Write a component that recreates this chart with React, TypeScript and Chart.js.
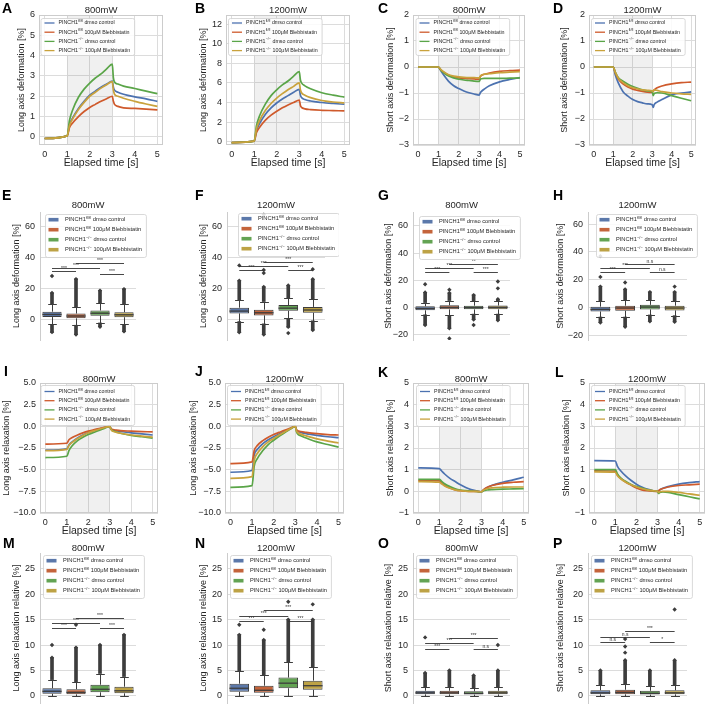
import React, { useEffect, useRef } from 'react';
import { Chart, registerables } from 'chart.js';

Chart.register(...registerables);

const FONT = '"Liberation Sans", Arial, Helvetica, sans-serif';
const INK = '#262626';
const GRID = '#dcdcdc';
const EDGE = '#3d3d3d';

// ---------------- categories / legend ----------------
const GROUP_BASE = ['PINCH1', 'PINCH1', 'PINCH1', 'PINCH1'];
const GROUP_SUP = ['fl/fl', 'fl/fl', '\u2212/\u2212', '\u2212/\u2212'];
const GROUP_REST = [' dmso control', ' 100\u03bcM Blebbistatin', ' dmso control', ' 100\u03bcM Blebbistatin'];
const CATS = ['flfl-dmso', 'flfl-bleb', 'ko-dmso', 'ko-bleb'];
const LINE_COLORS = ['#4c72b0', '#cf5a2c', '#5aa548', '#c9a23c'];
const BOX_COLORS = ['#5b78aa', '#c4643b', '#63a353', '#bda245'];

// ---------------- time courses ----------------
const TIME = [0, 1, 1.1, 1.25, 1.5, 1.75, 2, 2.25, 2.5, 2.75, 3, 3.05, 3.1, 3.25, 3.5, 4, 4.5, 5];
const X_TICKS = [0, 1, 2, 3, 4, 5];
const X_LIM = [-0.25, 5.25];
const STIM = [1, 3];

const A_BLUE = [-0.08, 0.05, 0.6, 0.95, 1.4, 1.75, 2.05, 2.25, 2.45, 2.6, 2.75, 2.45, 2.3, 2.2, 2.1, 1.97, 1.87, 1.75];
const A_ORANGE = [-0.08, 0.05, 0.45, 0.7, 1.0, 1.25, 1.45, 1.6, 1.75, 1.88, 2.0, 1.75, 1.6, 1.5, 1.43, 1.4, 1.37, 1.33];
const A_GREEN = [-0.08, 0.05, 0.8, 1.35, 1.95, 2.35, 2.65, 2.9, 3.1, 3.35, 3.58, 2.9, 2.7, 2.6, 2.5, 2.38, 2.25, 2.13];
const A_GOLD = [-0.08, 0.05, 0.55, 0.9, 1.35, 1.7, 2.0, 2.2, 2.4, 2.57, 2.72, 2.3, 2.1, 2.0, 1.9, 1.75, 1.62, 1.5];

const B_BLUE = [-0.1, 0.05, 1.1, 1.9, 2.8, 3.45, 3.95, 4.35, 4.7, 5.05, 5.35, 4.75, 4.5, 4.3, 4.15, 4.0, 3.9, 3.82];
const B_ORANGE = [-0.1, 0.05, 0.9, 1.5, 2.2, 2.7, 3.1, 3.45, 3.75, 4.0, 4.25, 3.7, 3.5, 3.35, 3.27, 3.2, 3.17, 3.14];
const B_GREEN = [-0.1, 0.05, 1.6, 2.7, 3.85, 4.7, 5.3, 5.8, 6.2, 6.7, 7.15, 6.3, 6.0, 5.7, 5.4, 5.0, 4.75, 4.55];
const B_GOLD = [-0.1, 0.05, 1.3, 2.2, 3.2, 3.9, 4.45, 4.9, 5.3, 5.65, 6.0, 5.3, 5.0, 4.75, 4.5, 4.2, 4.05, 3.95];

const C_BLUE = [0, 0, -0.12, -0.3, -0.55, -0.72, -0.83, -0.92, -0.99, -1.04, -1.08, -1.0, -0.95, -0.85, -0.72, -0.57, -0.48, -0.41];
const C_ORANGE = [0, 0, -0.1, -0.2, -0.32, -0.38, -0.42, -0.44, -0.45, -0.46, -0.47, -0.38, -0.33, -0.28, -0.23, -0.17, -0.14, -0.12];
const C_GREEN = [0, 0, -0.1, -0.22, -0.35, -0.42, -0.47, -0.5, -0.52, -0.54, -0.55, -0.48, -0.45, -0.44, -0.44, -0.44, -0.43, -0.42];
const C_GOLD = [0, 0, -0.08, -0.18, -0.3, -0.35, -0.38, -0.4, -0.41, -0.41, -0.42, -0.36, -0.32, -0.28, -0.26, -0.22, -0.2, -0.18];

const D_BLUE = [0, 0, -0.3, -0.6, -0.95, -1.12, -1.25, -1.33, -1.38, -1.42, -1.45, -1.55, -1.45, -1.35, -1.25, -1.07, -1.0, -0.96];
const D_ORANGE = [0, 0, -0.22, -0.45, -0.65, -0.77, -0.85, -0.9, -0.94, -0.97, -0.98, -0.92, -0.88, -0.8, -0.73, -0.65, -0.6, -0.58];
const D_GREEN = [0, 0, -0.2, -0.4, -0.55, -0.66, -0.75, -0.82, -0.88, -0.92, -0.95, -1.1, -1.02, -0.99, -1.0, -1.1, -1.2, -1.3];
const D_GOLD = [0, 0, -0.2, -0.42, -0.6, -0.72, -0.8, -0.84, -0.88, -0.9, -0.92, -0.95, -0.88, -0.9, -0.95, -1.0, -1.03, -1.05];

const I_BLUE = [-2.75, -2.6, -2.15, -1.8, -1.35, -1.0, -0.72, -0.5, -0.32, -0.15, 0, -0.25, -0.4, -0.5, -0.6, -0.75, -0.88, -1.0];
const I_ORANGE = [-2.05, -1.95, -1.55, -1.3, -1.0, -0.75, -0.55, -0.4, -0.25, -0.12, 0, -0.22, -0.35, -0.42, -0.5, -0.55, -0.6, -0.65];
const I_GREEN = [-3.6, -3.45, -2.8, -2.25, -1.65, -1.25, -0.95, -0.7, -0.48, -0.25, 0, -0.3, -0.45, -0.6, -0.8, -1.05, -1.2, -1.35];
const I_GOLD = [-2.8, -2.65, -2.2, -1.85, -1.4, -1.05, -0.75, -0.52, -0.33, -0.16, 0, -0.3, -0.5, -0.65, -0.8, -1.0, -1.12, -1.25];

const J_BLUE = [-5.3, -5.1, -3.3, -2.65, -2.0, -1.55, -1.2, -0.88, -0.58, -0.28, 0, -0.4, -0.55, -0.7, -0.85, -1.05, -1.2, -1.3];
const J_ORANGE = [-4.3, -4.1, -2.8, -2.2, -1.65, -1.25, -0.95, -0.7, -0.45, -0.22, 0, -0.35, -0.5, -0.6, -0.7, -0.85, -0.95, -1.0];
const J_GREEN = [-7.05, -6.85, -4.6, -3.7, -2.8, -2.1, -1.6, -1.15, -0.75, -0.35, 0, -0.6, -0.85, -1.1, -1.35, -1.8, -2.1, -2.4];
const J_GOLD = [-6.0, -5.8, -3.9, -3.1, -2.35, -1.8, -1.4, -1.0, -0.65, -0.3, 0, -0.5, -0.7, -0.9, -1.1, -1.45, -1.7, -1.92];

const K_BLUE = [1.08, 1.05, 0.95, 0.8, 0.6, 0.45, 0.3, 0.18, 0.08, 0.02, -0.02, 0.02, 0.07, 0.17, 0.28, 0.42, 0.53, 0.65];
const K_ORANGE = [0.5, 0.48, 0.4, 0.28, 0.15, 0.07, 0.03, 0.01, 0, 0, -0.02, 0.03, 0.08, 0.18, 0.27, 0.37, 0.42, 0.45];
const K_GREEN = [0.55, 0.55, 0.47, 0.35, 0.22, 0.12, 0.06, 0.03, 0.01, 0, -0.02, 0.0, 0.03, 0.06, 0.08, 0.1, 0.11, 0.12];
const K_GOLD = [0.45, 0.42, 0.35, 0.25, 0.14, 0.07, 0.03, 0.01, 0, 0, -0.02, 0.02, 0.06, 0.12, 0.16, 0.19, 0.2, 0.2];

const L_BLUE = [1.42, 1.4, 1.15, 0.95, 0.7, 0.5, 0.33, 0.2, 0.1, 0.04, 0, 0.02, 0.06, 0.14, 0.22, 0.33, 0.4, 0.45];
const L_ORANGE = [0.95, 0.93, 0.75, 0.6, 0.42, 0.28, 0.15, 0.07, 0.03, 0.01, 0, 0.03, 0.07, 0.13, 0.2, 0.27, 0.3, 0.33];
const L_GREEN = [1.0, 1.0, 0.8, 0.62, 0.45, 0.32, 0.22, 0.15, 0.08, 0.03, 0, -0.1, -0.05, -0.03, -0.05, -0.15, -0.25, -0.35];
const L_GOLD = [0.9, 0.88, 0.72, 0.58, 0.42, 0.3, 0.2, 0.13, 0.07, 0.03, 0, -0.05, -0.02, 0, 0, -0.05, -0.12, -0.18];

// ---------------- box plots: [q1, median, q3, whiskerLow, whiskerHigh, flierLow, flierHigh] ----------------
const E_BOX = [
  [1.3, 3.0, 4.8, -3.5, 10, -8.5, 17],
  [0.5, 2.0, 3.6, -4, 8, -10, 26],
  [2.2, 3.8, 5.6, -2.5, 10.5, -5, 18.5],
  [1.2, 2.8, 4.5, -3.5, 9.5, -8, 19.5],
];
const E_OUT = [[0, 28]];
const E_SIG = [[0, 1, 31, '***'], [2, 3, 29.5, '***'], [0, 2, 33.5, '***'], [1, 3, 36.6, '***']];

const F_BOX = [
  [3.8, 5.3, 7.5, -1.5, 12.5, -8.5, 25],
  [2.5, 4.2, 6.2, -3, 11.5, -10, 21],
  [5.5, 7.2, 9.2, 0.5, 14, -5, 22],
  [4.2, 6.0, 8.0, -1, 13, -7, 26],
];
const F_OUT = [[0, 35], [1, 30], [1, 32], [1, 68], [2, -9], [3, 32.5]];
const F_SIG = [[0, 1, 32, '***'], [2, 3, 32, '***'], [0, 2, 34.5, '***'], [1, 3, 37, '***']];

const G_BOX = [
  [-2.2, -0.8, 0.8, -5.5, 3.5, -13, 11],
  [-1.5, 0.0, 1.5, -6, 5, -15.5, 10.5],
  [-1.5, -0.2, 1.2, -5, 4.5, -9, 9],
  [-1.5, 0.0, 1.3, -5, 4.5, -9.5, 6],
];
const G_OUT = [[0, 17], [1, 13], [1, -23], [2, -13], [3, 14], [3, 19]];
const G_SIG = [[0, 1, 25.8, '***'], [2, 3, 25.8, '***'], [0, 2, 29, '***'], [1, 3, 31.7, '**']];

const H_BOX = [
  [-3, -1.5, 0.5, -7, 4.5, -11, 15],
  [-2.5, -0.5, 1.2, -7, 5, -14, 13],
  [-1.5, 0.2, 1.8, -5.5, 5, -10, 11],
  [-2.2, -0.5, 1.2, -6, 4.5, -10.5, 11],
];
const H_OUT = [[0, 22], [0, 37], [1, 18], [3, 15]];
const H_SIG = [[0, 1, 25.3, '***'], [2, 3, 25.3, 'n.s'], [0, 2, 28.2, '***'], [1, 3, 31.1, 'n.s']];

const M_BOX = [
  [0.4, 0.9, 1.5, 0, 3.2, null, 7.5],
  [0.3, 0.7, 1.3, 0, 2.8, null, 9.5],
  [0.7, 1.3, 2.2, 0, 4.4, null, 10],
  [0.5, 1.0, 1.8, 0, 3.8, null, 12],
];
const M_OUT = [[0, 10], [1, 14]];
const M_SIG = [[0, 1, 13.4, '***'], [2, 3, 13.4, '***'], [0, 2, 14.4, '***'], [1, 3, 15.4, '***']];

const N_BOX = [
  [0.8, 1.5, 2.4, 0, 4.8, null, 12],
  [0.6, 1.1, 2.0, 0, 4.1, null, 11],
  [1.5, 2.5, 3.6, 0, 6.6, null, 15],
  [1.2, 2.0, 3.0, 0, 5.7, null, 15],
];
const N_OUT = [[0, 14], [1, 13], [2, 18.5], [3, 18]];
const N_SIG = [[0, 1, 14.8, '***'], [2, 3, 14.8, '***'], [0, 2, 15.8, '***'], [1, 3, 16.8, '***']];

const O_BOX = [
  [0.3, 0.6, 1.0, 0, 1.8, null, 4.5],
  [0.3, 0.6, 1.0, 0, 1.8, null, 5],
  [0.25, 0.5, 0.9, 0, 1.6, null, 4],
  [0.3, 0.6, 1.0, 0, 1.8, null, 5],
];
const O_OUT = [[0, 11.5], [3, 10]];
const O_SIG = [[0, 1, 9.2, '***'], [2, 3, 9.2, 'n.s'], [0, 2, 10.4, '***'], [1, 3, 11.4, '***']];

const P_BOX = [
  [0.3, 0.6, 1.1, 0, 2.1, null, 5],
  [0.3, 0.7, 1.2, 0, 2.3, null, 7],
  [0.25, 0.5, 1.0, 0, 1.9, null, 5],
  [0.3, 0.6, 1.1, 0, 2.1, null, 7],
];
const P_OUT = [[1, 8.5], [1, 9.7], [1, 11.2], [3, 17]];
const P_SIG = [[0, 1, 10.5, 'n.s'], [2, 3, 10.5, '*'], [0, 2, 11.5, 'n.s'], [1, 3, 12.8, '***']];

// ---------------- tick labels ----------------
const A_YTICKS = [0, 1, 2, 3, 4, 5, 6];
const B_YTICKS = [0, 2, 4, 6, 8, 10, 12];
const CD_YTICKS = [-3, -2, -1, 0, 1, 2];
const EF_YTICKS = [0, 20, 40, 60];
const GH_YTICKS = [-20, 0, 20, 40, 60];
const IJ_YTICKS = [-10, -7.5, -5, -2.5, 0, 2.5, 5];
const KL_YTICKS = [-1, 0, 1, 2, 3, 4, 5];
const MP_YTICKS = [0, 5, 10, 15, 20, 25];

// ---------------- layout ----------------
const PADL = 48;
const PADT = 18;
const PADR_LINE = 6;
const PADB_LINE = 30;
const PADR_BOX = 14;
const PADB_BOX = 4;

const LINE_PANELS = [
  { letter: 'A', lp: [2, 3], rect: [39, 15, 163, 145], title: '800mW', tdy: 2.5, ylabel: 'Long axis deformation [%]', ylx: 22, ylim: [-0.4, 6.0], yt: A_YTICKS, dec: 0, series: [A_BLUE, A_ORANGE, A_GREEN, A_GOLD], leg: [1.5, 3, 5, 9.2, 37], xly: 18.5 },
  { letter: 'B', lp: [195, 3], rect: [226, 15, 350, 145], title: '1200mW', tdy: 2.5, ylabel: 'Long axis deformation [%]', ylx: 204, ylim: [-0.35, 12.95], yt: B_YTICKS, dec: 0, series: [B_BLUE, B_ORANGE, B_GREEN, B_GOLD], leg: [2, 3, 5, 9.2, 37], xly: 18.5 },
  { letter: 'C', lp: [378, 3], rect: [413, 15, 525, 145], title: '800mW', tdy: 2.5, ylabel: 'Short axis deformation [%]', ylx: 391, ylim: [-3, 2], yt: CD_YTICKS, dec: 0, series: [C_BLUE, C_ORANGE, C_GREEN, C_GOLD], leg: [2.5, 3, 5, 9.2, 37], xly: 18.5 },
  { letter: 'D', lp: [553, 3], rect: [589, 15, 696, 145], title: '1200mW', tdy: 2.5, ylabel: 'Short axis deformation [%]', ylx: 565, ylim: [-3, 2], yt: CD_YTICKS, dec: 0, series: [D_BLUE, D_ORANGE, D_GREEN, D_GOLD], leg: [2, 3, 5, 9.2, 37], xly: 18.5 },
  { letter: 'I', lp: [4, 366], rect: [40, 383, 158, 513], title: '800mW', tdy: 1.5, ylabel: 'Long axis relaxation [%]', ylx: 7, ylim: [-10, 5], yt: IJ_YTICKS, dec: 1, series: [I_BLUE, I_ORANGE, I_GREEN, I_GOLD], leg: [0.5, 2, 6.5, 9.2, 40], xly: 18 },
  { letter: 'J', lp: [195, 366], rect: [225, 383, 344, 513], title: '1200mW', tdy: 1.5, ylabel: 'Long axis relaxation [%]', ylx: 194, ylim: [-10, 5], yt: IJ_YTICKS, dec: 1, series: [J_BLUE, J_ORANGE, J_GREEN, J_GOLD], leg: [2, 2, 6.5, 9.2, 40], xly: 18 },
  { letter: 'K', lp: [378, 367], rect: [413, 383, 529, 513], title: '800mW', tdy: 1.5, ylabel: 'Short axis relaxation [%]', ylx: 391, ylim: [-1, 5], yt: KL_YTICKS, dec: 0, series: [K_BLUE, K_ORANGE, K_GREEN, K_GOLD], leg: [3, 2, 6.5, 9.2, 41], xly: 18 },
  { letter: 'L', lp: [555, 367], rect: [589, 383, 705, 513], title: '1200mW', tdy: 1.5, ylabel: 'Short axis relaxation [%]', ylx: 567, ylim: [-1, 5], yt: KL_YTICKS, dec: 0, series: [L_BLUE, L_ORANGE, L_GREEN, L_GOLD], leg: [2, 2, 6.5, 9.2, 41], xly: 18 },
];

const BOX_PANELS = [
  { letter: 'E', lp: [2, 190], rect: [40, 212, 136, 340], title: '800mW', tdy: 3.7, ylabel: 'Long axis deformation [%]', ylx: 17, ylim: [-13.6, 69.6], yt: EF_YTICKS, stats: E_BOX, out: E_OUT, sig: E_SIG, leg: [5, 2] },
  { letter: 'F', lp: [195, 190], rect: [227, 212, 325, 340], title: '1200mW', tdy: 3.7, ylabel: 'Long axis deformation [%]', ylx: 204, ylim: [-13.5, 69.7], yt: EF_YTICKS, stats: F_BOX, out: F_OUT, sig: F_SIG, leg: [11, 1] },
  { letter: 'G', lp: [378, 190], rect: [413, 212, 510, 340], title: '800mW', tdy: 3.7, ylabel: 'Short axis deformation [%]', ylx: 389, ylim: [-24.1, 70.3], yt: GH_YTICKS, stats: G_BOX, out: G_OUT, sig: G_SIG, leg: [6, 4] },
  { letter: 'H', lp: [553, 190], rect: [588, 212, 687, 340], title: '1200mW', tdy: 3.7, ylabel: 'Short axis deformation [%]', ylx: 561, ylim: [-23.6, 68.9], yt: GH_YTICKS, stats: H_BOX, out: H_OUT, sig: H_SIG, leg: [8, 2] },
  { letter: 'M', lp: [3, 538], rect: [40, 553, 136, 703], title: '800mW', tdy: 2.5, ylabel: 'Long axis relaxation relative [%]', ylx: 17, ylim: [-1.4, 28.1], yt: MP_YTICKS, stats: M_BOX, out: M_OUT, sig: M_SIG, leg: [3, 2] },
  { letter: 'N', lp: [195, 538], rect: [227, 553, 325, 703], title: '1200mW', tdy: 2.5, ylabel: 'Long axis relaxation relative [%]', ylx: 204, ylim: [-1.4, 28.1], yt: MP_YTICKS, stats: N_BOX, out: N_OUT, sig: N_SIG, leg: [3, 2] },
  { letter: 'O', lp: [378, 538], rect: [413, 553, 510, 703], title: '800mW', tdy: 2.5, ylabel: 'Short axis relaxation relative [%]', ylx: 389, ylim: [-1.4, 28.1], yt: MP_YTICKS, stats: O_BOX, out: O_OUT, sig: O_SIG, leg: [3, 2] },
  { letter: 'P', lp: [553, 538], rect: [588, 553, 687, 703], title: '1200mW', tdy: 2.5, ylabel: 'Short axis relaxation relative [%]', ylx: 561, ylim: [-1.4, 28.1], yt: MP_YTICKS, stats: P_BOX, out: P_OUT, sig: P_SIG, leg: [3, 2] },
];

// ---------------- drawing helpers ----------------
function fmt(v: number, dec: number) {
  const s = Math.abs(v).toFixed(dec);
  return (v < 0 ? '\u2212' : '') + s;
}

function labelWidth(ctx: CanvasRenderingContext2D, i: number, fs: number) {
  ctx.font = `${fs}px ${FONT}`;
  let w = ctx.measureText(GROUP_BASE[i]).width + ctx.measureText(GROUP_REST[i]).width;
  ctx.font = `${fs * 0.68}px ${FONT}`;
  w += ctx.measureText(GROUP_SUP[i]).width + 0.4;
  return w;
}

function drawLabel(ctx: CanvasRenderingContext2D, x: number, y: number, i: number, fs: number) {
  ctx.fillStyle = INK;
  ctx.textAlign = 'left';
  ctx.textBaseline = 'middle';
  ctx.font = `${fs}px ${FONT}`;
  ctx.fillText(GROUP_BASE[i], x, y);
  let w = ctx.measureText(GROUP_BASE[i]).width + 0.2;
  ctx.font = `${fs * 0.68}px ${FONT}`;
  ctx.fillText(GROUP_SUP[i], x + w, y - fs * 0.36);
  w += ctx.measureText(GROUP_SUP[i]).width + 0.2;
  ctx.font = `${fs}px ${FONT}`;
  ctx.fillText(GROUP_REST[i], x + w, y);
}

function drawLegend(ctx: CanvasRenderingContext2D, x: number, y: number, kind: string, fs: number, first: number, step: number, h: number, textStart: number) {
  ctx.save();
  let maxW = 0;
  for (let i = 0; i < 4; i++) maxW = Math.max(maxW, labelWidth(ctx, i, fs));
  const w = textStart + maxW + 4;
  ctx.beginPath();
  if ((ctx as any).roundRect) (ctx as any).roundRect(x + 0.5, y + 0.5, w, h, 2);
  else ctx.rect(x + 0.5, y + 0.5, w, h);
  ctx.fillStyle = 'rgba(255,255,255,0.85)';
  ctx.fill();
  ctx.strokeStyle = '#cfcfcf';
  ctx.lineWidth = 0.8;
  ctx.stroke();
  for (let i = 0; i < 4; i++) {
    const cy = y + first + i * step;
    if (kind === 'line') {
      ctx.strokeStyle = LINE_COLORS[i];
      ctx.lineWidth = 1.3;
      ctx.beginPath();
      ctx.moveTo(x + 4, cy);
      ctx.lineTo(x + 14, cy);
      ctx.stroke();
    } else {
      ctx.fillStyle = BOX_COLORS[i];
      ctx.fillRect(x + 3.5, cy - 1.8, 10, 3.6);
    }
    drawLabel(ctx, x + textStart, cy, i, fs);
  }
  ctx.restore();
}

function drawTitles(ctx: CanvasRenderingContext2D, ca: any, p: any, canvasLeft: number, xlabelY: number | null) {
  ctx.save();
  ctx.fillStyle = INK;
  ctx.textAlign = 'center';
  ctx.textBaseline = 'alphabetic';
  ctx.font = `9.5px ${FONT}`;
  ctx.fillText(p.title, (ca.left + ca.right) / 2, ca.top - p.tdy);
  ctx.save();
  ctx.translate(p.ylx - canvasLeft, (ca.top + ca.bottom) / 2);
  ctx.rotate(-Math.PI / 2);
  ctx.textBaseline = 'middle';
  ctx.font = `9px ${FONT}`;
  ctx.fillText(p.ylabel, 0, 0);
  ctx.restore();
  if (xlabelY !== null) {
    ctx.textBaseline = 'middle';
    ctx.font = `10.5px ${FONT}`;
    ctx.fillText('Elapsed time [s]', (ca.left + ca.right) / 2, ca.bottom + xlabelY);
  }
  ctx.restore();
}

function yScale(p: any, dec: number, pad: number, border: boolean) {
  return {
    type: 'linear',
    min: p.ylim[0],
    max: p.ylim[1],
    afterBuildTicks: (s: any) => { s.ticks = p.yt.map((v: number) => ({ value: v })); },
    afterFit: (s: any) => { s.width = PADL; s.paddingTop = 0; s.paddingBottom = 0; s.paddingLeft = 0; s.paddingRight = 0; },
    grid: { color: GRID, drawTicks: false, lineWidth: 1 },
    border: { display: border, color: '#cccccc', width: 1 },
    ticks: { font: { family: FONT, size: 9 }, color: INK, padding: pad, autoSkip: false, callback: (v: number) => fmt(v, dec) },
  };
}

function lineConfig(p: any, canvasLeft: number) {
  const deco = {
    id: 'deco' + p.letter,
    beforeDatasetsDraw(chart: any) {
      const { ctx, chartArea: ca, scales } = chart;
      const a = scales.x.getPixelForValue(STIM[0]);
      const b = scales.x.getPixelForValue(STIM[1]);
      ctx.save();
      ctx.fillStyle = 'rgba(120,120,120,0.11)';
      ctx.fillRect(a, ca.top, b - a, ca.bottom - ca.top);
      ctx.restore();
    },
    afterDatasetsDraw(chart: any) {
      const { ctx, chartArea: ca } = chart;
      ctx.save();
      ctx.strokeStyle = '#cccccc';
      ctx.lineWidth = 1;
      ctx.strokeRect(ca.left + 0.5, ca.top + 0.5, ca.right - ca.left - 1, ca.bottom - ca.top - 1);
      ctx.restore();
      const [dx, dy, first, step, h] = p.leg;
      drawLegend(ctx, ca.left + dx, ca.top + dy, 'line', 5.3, first, step, h, 18);
      drawTitles(ctx, ca, p, canvasLeft, p.xly);
    },
  };
  return {
    type: 'line',
    data: {
      datasets: p.series.map((vals: number[], i: number) => ({
        label: CATS[i],
        data: TIME.map((t, j) => ({ x: t, y: vals[j] })),
        borderColor: LINE_COLORS[i],
        backgroundColor: LINE_COLORS[i],
        borderWidth: 1.7,
        pointRadius: 0,
        cubicInterpolationMode: 'monotone',
        fill: false,
        order: 3 - i,
      })),
    },
    options: {
      responsive: false,
      animation: false,
      devicePixelRatio: 1,
      events: [],
      layout: { padding: { left: 0, top: PADT, right: PADR_LINE, bottom: 0 } },
      plugins: { legend: { display: false }, tooltip: { enabled: false }, title: { display: false } },
      scales: {
        x: {
          type: 'linear',
          min: X_LIM[0],
          max: X_LIM[1],
          afterBuildTicks: (s: any) => { s.ticks = X_TICKS.map((v) => ({ value: v })); },
          afterFit: (s: any) => { s.height = PADB_LINE; s.paddingLeft = 0; s.paddingRight = 0; s.paddingTop = 0; s.paddingBottom = 0; },
          grid: { color: GRID, drawTicks: false, lineWidth: 1 },
          border: { display: false },
          ticks: { font: { family: FONT, size: 9 }, color: INK, padding: 4, maxRotation: 0, autoSkip: false, callback: (v: number) => String(v) },
        },
        y: yScale(p, p.dec, 4, false),
      },
    },
    plugins: [deco],
  };
}

function boxConfig(p: any, canvasLeft: number) {
  const deco = {
    id: 'deco' + p.letter,
    beforeDatasetsDraw(chart: any) {
      const { ctx, scales } = chart;
      const meta = chart.getDatasetMeta(1);
      ctx.save();
      ctx.strokeStyle = EDGE;
      ctx.lineWidth = 1;
      p.stats.forEach((s: any[], i: number) => {
        const el = meta.data[i];
        const cx = Math.round(el.x) + 0.5;
        const cw = el.width * 0.45;
        const yq1 = scales.y.getPixelForValue(s[0]);
        const yq3 = scales.y.getPixelForValue(s[2]);
        const ylo = Math.round(scales.y.getPixelForValue(s[3])) + 0.5;
        const yhi = Math.round(scales.y.getPixelForValue(s[4])) + 0.5;
        ctx.beginPath();
        ctx.moveTo(cx, yq3); ctx.lineTo(cx, yhi);
        ctx.moveTo(cx, yq1); ctx.lineTo(cx, ylo);
        ctx.moveTo(cx - cw / 2, yhi); ctx.lineTo(cx + cw / 2, yhi);
        ctx.moveTo(cx - cw / 2, ylo); ctx.lineTo(cx + cw / 2, ylo);
        ctx.stroke();
      });
      ctx.restore();
    },
    afterDatasetsDraw(chart: any) {
      const { ctx, chartArea: ca, scales } = chart;
      const meta = chart.getDatasetMeta(1);
      ctx.save();
      ctx.strokeStyle = EDGE;
      ctx.lineWidth = 1.3;
      p.stats.forEach((s: any[], i: number) => {
        const el = meta.data[i];
        const y = scales.y.getPixelForValue(s[1]);
        ctx.beginPath();
        ctx.moveTo(el.x - el.width / 2, y);
        ctx.lineTo(el.x + el.width / 2, y);
        ctx.stroke();
      });
      ctx.lineWidth = 0.9;
      ctx.strokeStyle = '#333333';
      ctx.fillStyle = '#333333';
      ctx.font = `5px ${FONT}`;
      ctx.textAlign = 'center';
      ctx.textBaseline = 'bottom';
      p.sig.forEach(([a, b, v, txt]: any[]) => {
        const xa = meta.data[a].x;
        const xb = meta.data[b].x;
        const y = Math.round(scales.y.getPixelForValue(v)) + 0.5;
        ctx.beginPath();
        ctx.moveTo(xa, y);
        ctx.lineTo(xb, y);
        ctx.stroke();
        ctx.fillText(txt, (xa + xb) / 2, y - 0.8);
      });
      ctx.restore();
      const [dx, dy] = p.leg;
      drawLegend(ctx, ca.left + dx, ca.top + dy, 'patch', 5.7, 5.7, 10, 43, 20);
      drawTitles(ctx, ca, p, canvasLeft, null);
    },
  };
  // isolated fliers plus the extreme flier at each end of a dense flier run
  const fliers: any[] = p.out.map(([c, v]: number[]) => ({ x: CATS[c], y: v }));
  p.stats.forEach((s: any[], i: number) => {
    if (s[6] != null && s[6] > s[4]) fliers.push({ x: CATS[i], y: s[6] });
    if (s[5] != null && s[5] < s[3]) fliers.push({ x: CATS[i], y: s[5] });
  });
  return {
    type: 'bar',
    data: {
      labels: CATS,
      datasets: [
        {
          type: 'scatter',
          data: fliers,
          pointStyle: 'rectRot',
          pointRadius: 2.2,
          backgroundColor: EDGE,
          borderColor: EDGE,
          borderWidth: 0,
          order: 0,
        },
        {
          type: 'bar',
          data: p.stats.map((s: any[]) => [s[0], s[2]]),
          backgroundColor: BOX_COLORS,
          borderColor: EDGE,
          borderWidth: 1,
          borderSkipped: false,
          barPercentage: 0.8,
          categoryPercentage: 1,
          grouped: false,
          order: 1,
        },
        {
          type: 'bar',
          data: p.stats.map((s: any[]) => (s[6] != null && s[6] > s[4] ? [s[4], s[6]] : null)),
          backgroundColor: EDGE,
          barThickness: 3,
          grouped: false,
          order: 2,
        },
        {
          type: 'bar',
          data: p.stats.map((s: any[]) => (s[5] != null && s[5] < s[3] ? [s[5], s[3]] : null)),
          backgroundColor: EDGE,
          barThickness: 3,
          grouped: false,
          order: 2,
        },
      ],
    },
    options: {
      responsive: false,
      animation: false,
      devicePixelRatio: 1,
      events: [],
      layout: { padding: { left: 0, top: PADT, right: PADR_BOX, bottom: 0 } },
      plugins: { legend: { display: false }, tooltip: { enabled: false }, title: { display: false } },
      scales: {
        x: {
          type: 'category',
          offset: true,
          afterFit: (s: any) => { s.height = PADB_BOX; s.paddingLeft = 0; s.paddingRight = 0; s.paddingTop = 0; s.paddingBottom = 0; },
          grid: { display: false },
          border: { display: false },
          ticks: { display: false },
        },
        y: yScale(p, 0, 5, true),
      },
    },
    plugins: [deco],
  };
}

function Panel({ p, kind }: { p: any; kind: string }) {
  const ref = useRef<HTMLCanvasElement>(null);
  const [x0, y0, x1, y1] = p.rect;
  const padR = kind === 'line' ? PADR_LINE : PADR_BOX;
  const padB = kind === 'line' ? PADB_LINE : PADB_BOX;
  const left = x0 - PADL;
  const top = y0 - PADT;
  const width = x1 - x0 + PADL + padR;
  const height = y1 - y0 + PADT + padB;
  useEffect(() => {
    const cfg: any = kind === 'line' ? lineConfig(p, left) : boxConfig(p, left);
    const chart = new Chart(ref.current as HTMLCanvasElement, cfg);
    return () => chart.destroy();
  }, []);
  return (
    <>
      <canvas ref={ref} width={width} height={height} style={{ position: 'absolute', left, top, width, height }} />
      <div style={{ position: 'absolute', left: p.lp[0], top: p.lp[1] - 2, font: `bold 14px ${FONT}`, lineHeight: '14px', color: '#000' }}>{p.letter}</div>
    </>
  );
}

export default function App() {
  useEffect(() => {
    document.body.style.margin = '0';
  }, []);
  return (
    <div style={{ position: 'absolute', left: 0, top: 0, width: 708, height: 707, background: '#fff', overflow: 'hidden' }}>
      {LINE_PANELS.map((p) => <Panel key={p.letter} p={p} kind="line" />)}
      {BOX_PANELS.map((p) => <Panel key={p.letter} p={p} kind="box" />)}
    </div>
  );
}
